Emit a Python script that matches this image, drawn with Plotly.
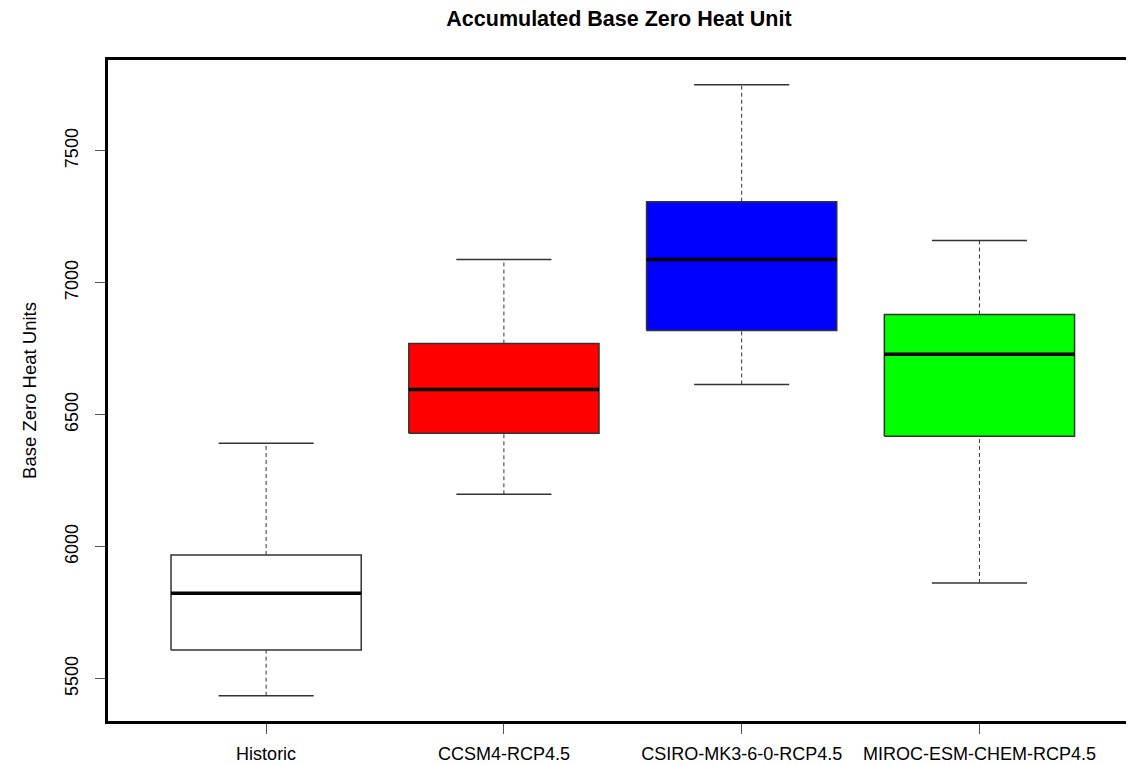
import plotly.graph_objects as go

categories = ["Historic", "CCSM4-RCP4.5", "CSIRO-MK3-6-0-RCP4.5", "MIROC-ESM-CHEM-RCP4.5"]
positions = [1, 2, 3, 4]
lower_whisker = [5436, 6199, 6615, 5863]
q1 = [5609, 6430, 6819, 6419]
median = [5824, 6596, 7088, 6729]
q3 = [5969, 6770, 7307, 6880]
upper_whisker = [6392, 7088, 7750, 7160]
fills = ["#FFFFFF", "#FF0000", "#0000FF", "#00FF00"]
y_ticks = [5500, 6000, 6500, 7000, 7500]

box_half = 0.4
cap_half = 0.2

fig = go.Figure()
for x, lo, a, m, b, hi, c in zip(positions, lower_whisker, q1, median, q3, upper_whisker, fills):
    # whiskers (dashed)
    fig.add_trace(go.Scatter(x=[x, x, None, x, x], y=[lo, a, None, b, hi], mode="lines",
                             line=dict(color="#333333", width=1, dash="4px,3px"),
                             hoverinfo="skip", showlegend=False))
    # caps
    fig.add_trace(go.Scatter(x=[x - cap_half, x + cap_half, None, x - cap_half, x + cap_half],
                             y=[lo, lo, None, hi, hi], mode="lines",
                             line=dict(color="#333333", width=1.5),
                             hoverinfo="skip", showlegend=False))
    # box
    fig.add_trace(go.Scatter(x=[x - box_half, x + box_half, x + box_half, x - box_half, x - box_half],
                             y=[a, a, b, b, a], mode="lines", fill="toself", fillcolor=c,
                             line=dict(color="#333333", width=1.5),
                             hoverinfo="skip", showlegend=False))
    # median
    fig.add_trace(go.Scatter(x=[x - box_half, x + box_half], y=[m, m], mode="lines",
                             line=dict(color="#000000", width=3.5),
                             hoverinfo="skip", showlegend=False))

fig.update_layout(
    width=1126, height=757,
    margin=dict(l=100, r=0, t=52, b=44),
    paper_bgcolor="white", plot_bgcolor="white",
    font=dict(family="Liberation Sans, Arial, sans-serif", size=18, color="#000000"),
    title=dict(text="<b>Accumulated Base Zero Heat Unit</b>", xref="container", x=0.5426,
               xanchor="center", yref="container", y=1 - 3 / 757, yanchor="top",
               pad=dict(t=0, b=0, l=0, r=0),
               font=dict(size=21.5, color="#000000")),
    showlegend=False,
)
fig.update_xaxes(
    range=[0.335, 4.65], tickmode="array", tickvals=positions, ticktext=categories,
    showgrid=False, zeroline=False, showline=True, mirror=True, linecolor="#000000", linewidth=3,
    ticks="outside", ticklen=10, tickcolor="#555555", tickwidth=1, tickfont=dict(size=18),
    ticklabelstandoff=4,
)
fig.update_yaxes(
    range=[5340, 7844], tickmode="array", tickvals=y_ticks, ticktext=[str(v) for v in y_ticks],
    showgrid=False, zeroline=False, showline=True, mirror=False, linecolor="#000000", linewidth=3,
    ticks="outside", ticklen=10, tickcolor="#555555", tickwidth=1, tickangle=-90,
    tickfont=dict(size=18), ticklabelstandoff=10,
    title=dict(text="Base Zero Heat Units", font=dict(size=18.5), standoff=21),
)

fig.write_html("out.html")
